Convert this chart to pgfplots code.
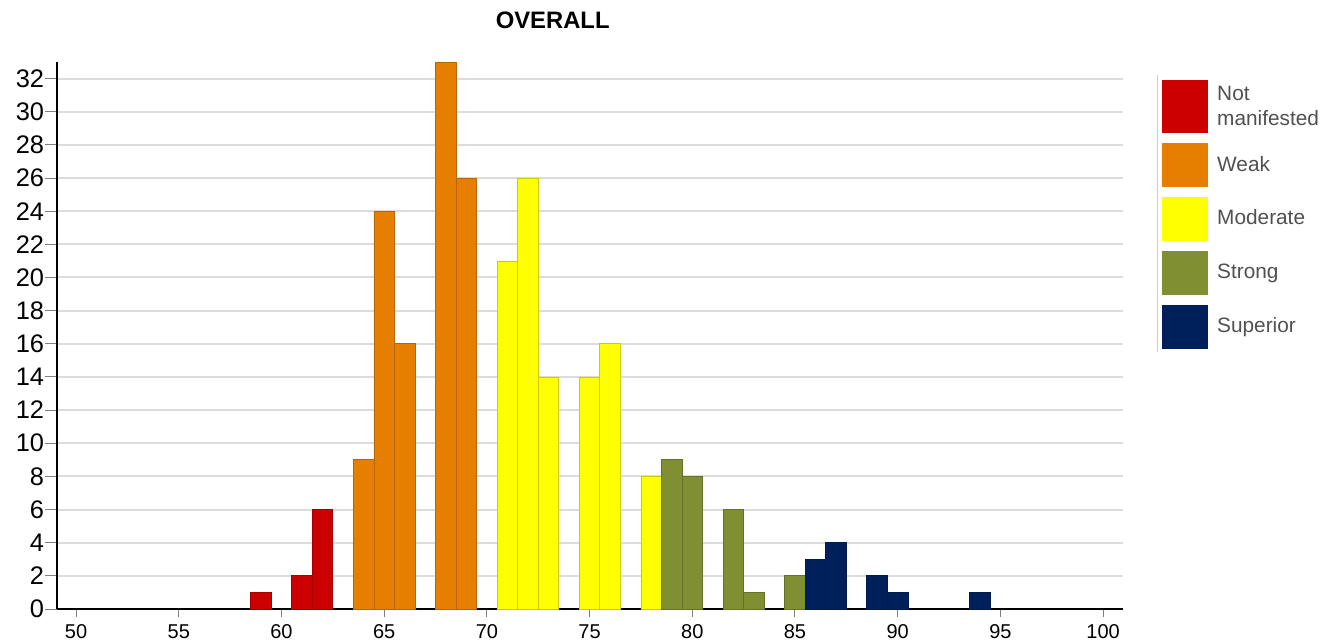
\documentclass[border=0pt]{standalone}
\usepackage{fontspec}
\setmainfont{Liberation Sans}
\usepackage{pgfplots}
\pgfplotsset{compat=1.18}

\definecolor{cNot}{HTML}{CC0000}
\definecolor{cWeak}{HTML}{E67F00}
\definecolor{cMod}{HTML}{FFFF00}
\definecolor{cStrong}{HTML}{7F8F32}
\definecolor{cSup}{HTML}{00205B}
\definecolor{gridgray}{HTML}{DCDCDC}
\definecolor{legtext}{HTML}{505050}

\pgfplotsset{
  bandbar/.style={ybar, bar width=1, bar shift=0pt, fill=#1,
    draw=#1!80!black, line width=0.4pt, area legend,
    legend image code/.code={\fill[#1] (0pt,-10.75pt) rectangle (22.5pt,10.75pt);}},
}

\begin{document}
\begin{tikzpicture}
  \path[use as bounding box] (-28.5pt,-17pt) rectangle (638pt,304.5pt);
  \begin{axis}[
      scale only axis,
      width=533pt, height=273.5pt,
      xmin=49.07, xmax=100.97,
      ymin=0, ymax=33,
      axis x line=bottom, axis y line=left,
      axis line style={-, line width=1pt, black},
      xtick={50,55,...,100},
      ytick={0,2,...,32},
      tick align=outside,
      xtick style={gray, line width=0.5pt, /pgfplots/major tick length=4pt},
      ytick style={gray, line width=0.5pt, /pgfplots/major tick length=6pt},
      /pgf/number format/assume math mode=true,
      xticklabel style={font=\fontsize{10}{12}\selectfont, inner ysep=3.5pt},
      yticklabel style={font=\fontsize{12.7}{15}\selectfont, inner xsep=2pt},
      ymajorgrids,
      grid style={gridgray, line width=1pt},
      title={OVERALL},
      title style={at={(0.465,1.055)}, anchor=center,
        font=\bfseries\fontsize{11.9}{14}\selectfont},
      legend style={at={(1.0366,0.967)}, anchor=north west,
        draw=none, fill=none, inner sep=0pt,
        row sep=5pt, column sep=2.5pt,
        font=\fontsize{10.4}{12.5}\selectfont, text=legtext,
        cells={anchor=west, align=left}},
    ]
    \addplot[bandbar=cNot,
      legend image code/.code={\fill[cNot] (0pt,-13pt) rectangle (22.5pt,13pt);}]
      coordinates {(59,1) (61,2) (62,6)};
    \addlegendentry{Not\\manifested}
    \addplot[bandbar=cWeak]
      coordinates {(64,9) (65,24) (66,16) (68,33) (69,26)};
    \addlegendentry{Weak}
    \addplot[bandbar=cMod]
      coordinates {(71,21) (72,26) (73,14) (75,14) (76,16) (78,8)};
    \addlegendentry{Moderate}
    \addplot[bandbar=cStrong]
      coordinates {(79,9) (80,8) (82,6) (83,1) (85,2)};
    \addlegendentry{Strong}
    \addplot[bandbar=cSup]
      coordinates {(86,3) (87,4) (89,2) (90,1) (94,1)};
    \addlegendentry{Superior}
  \end{axis}
  \draw[gray!40, line width=0.5pt] (550pt,267pt) -- (550pt,128.5pt);
\end{tikzpicture}
\end{document}
